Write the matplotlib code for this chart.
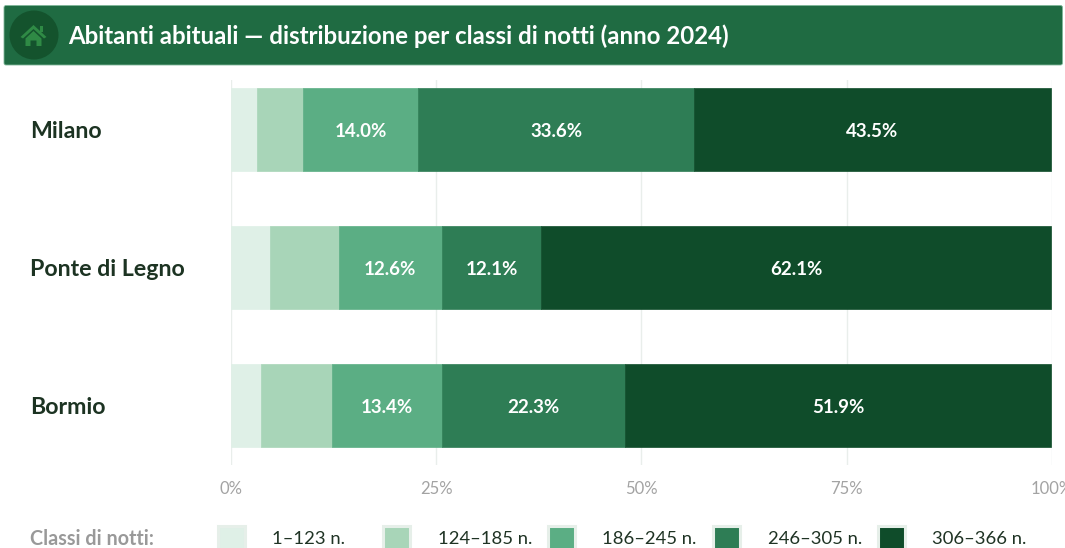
import matplotlib
matplotlib.use("Agg")
import matplotlib.pyplot as plt
from matplotlib.patches import FancyBboxPatch, Circle, Polygon, Rectangle

plt.rcParams['font.family'] = ['Lato', 'DejaVu Sans']

W, H = 1065, 548

citta = ["Milano", "Ponte di Legno", "Bormio"]
classi = ["1–123 n.", "124–185 n.", "186–245 n.", "246–305 n.", "306–366 n."]
colori = ["#dff0e7", "#a8d5b8", "#5bae84", "#2e7d55", "#0f4c2a"]

v1 = [3.1, 4.7, 3.6]
v2 = [5.7, 8.4, 8.7]
v3 = [14.0, 12.6, 13.4]
v4 = [33.6, 12.1, 22.3]
v5 = [43.5, 62.1, 51.9]
serie = [v1, v2, v3, v4, v5]
tick_pct = [0, 25, 50, 75, 100]

fig = plt.figure(figsize=(W / 100, H / 100), dpi=100, facecolor="white")

# sfondo in pixel: banner e legenda
bg = fig.add_axes([0, 0, 1, 1], zorder=0)
bg.set_xlim(0, W)
bg.set_ylim(H, 0)
bg.axis("off")

bg.add_patch(FancyBboxPatch((4, 5.5), 1058.5, 59.5, boxstyle="round,pad=0,rounding_size=2",
                            fc="#1f6b42", ec="#7fb79a", lw=0.6))
bg.add_patch(Circle((34, 35), 24.5, fc="#14532d", ec="none"))
# icona casa
bg.add_patch(Polygon([(20.5, 37), (33.5, 25), (46.5, 37), (44, 38.5), (33.5, 29), (23, 38.5)],
                     closed=True, fc="#2f8a45", ec="none"))
bg.add_patch(Rectangle((39.5, 25.5), 3, 6, fc="#2f8a45", ec="none"))
bg.add_patch(Polygon([(25.5, 38.5), (33.5, 31), (41.5, 38.5), (41.5, 46), (36.5, 46), (36.5, 40.5),
                      (30.5, 40.5), (30.5, 46), (25.5, 46)], closed=True, fc="#2f8a45", ec="none"))
bg.text(68.5, 36.5, "Abitanti abituali — distribuzione per classi di notti (anno 2024)",
        color="white", fontsize=17.25, fontweight="bold", va="center", ha="left")

bg.text(30, 539, "Classi di notti:", color="#999999", fontsize=14.2, fontweight="bold",
        va="center", ha="left")
pos_q = [218, 383, 548, 713, 878]
for x, c, lab in zip(pos_q, colori, classi):
    bg.add_patch(Rectangle((x, 526), 27, 24, fc=c, ec="#e6efe9", lw=2.2, clip_on=True))
    bg.text(x + 54.5, 539, lab, color="#1f3324", fontsize=13.3, va="center", ha="left")

# grafico a barre
x0, x100 = 231.2, 1051.8
ax = fig.add_axes([x0 / W, 1 - 465 / H, (x100 - x0) / W, (465 - 80) / H], zorder=1)
ax.patch.set_alpha(0)
ax.set_xlim(0, 100)
ax.set_ylim(465, 80)
centri = [129.5, 267.5, 405.5]

for s in ax.spines.values():
    s.set_visible(False)
ax.set_axisbelow(True)
ax.grid(axis="x", color="#e9eeeb", lw=1)
ax.set_xticks(tick_pct)
ax.set_xticklabels([str(t) + "%" for t in tick_pct], color="#a3a3a3", fontsize=12)
ax.tick_params(axis="x", length=0, pad=11.5)
ax.set_yticks(centri)
ax.set_yticklabels([])
ax.tick_params(axis="y", length=0)
for nome, y in zip(citta, centri):
    ax.text((30 - x0) / (x100 - x0), y + 2, nome, transform=ax.get_yaxis_transform(),
            color="#1c3322", fontsize=16.7, fontweight="bold", ha="left", va="center")

sinistra = [0, 0, 0]
for vals, c in zip(serie, colori):
    ax.barh(centri, vals, height=83, left=sinistra, color=c, edgecolor=c, lw=0.5)
    for y, l, v in zip(centri, sinistra, vals):
        if v > 10:
            ax.text(l + v / 2, y + 2, f"{v:.1f}%", color="white", fontsize=13.5, fontweight="bold",
                    ha="center", va="center")
    sinistra = [a + b for a, b in zip(sinistra, vals)]

fig.savefig("out.png", dpi=100)
